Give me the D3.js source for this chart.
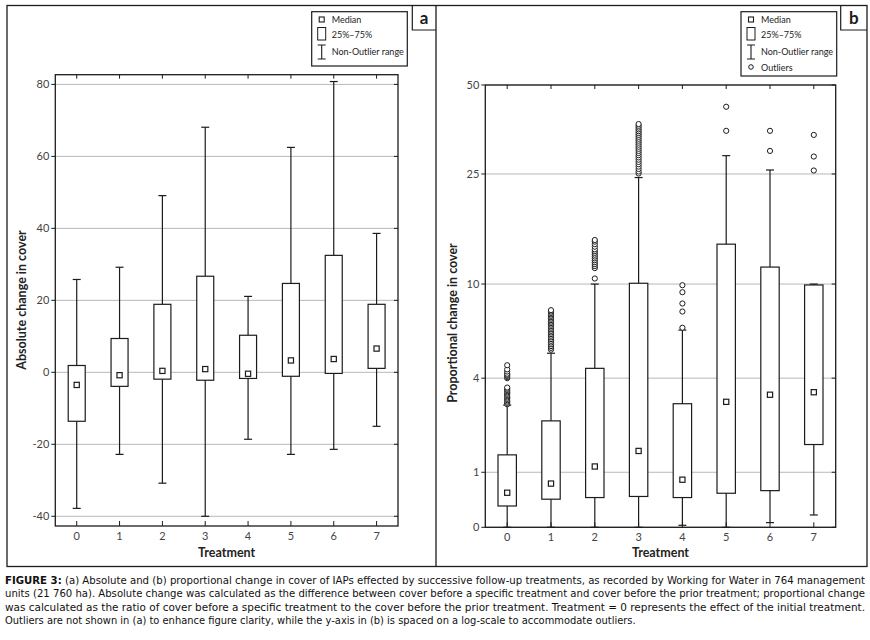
<!DOCTYPE html>
<html>
<head>
<meta charset="utf-8">
<script src="https://cdn.jsdelivr.net/npm/d3@7"></script>
<style>
  body { margin: 0; background: #fff; }
  svg { display: block; }
  .tick-label { font-family: Lato, "Open Sans", sans-serif; font-size: 11px; fill: #444; }
  .axis-title { font-family: Lato, "Open Sans", sans-serif; font-size: 12.5px; font-weight: bold; fill: #222; }
  .legend-text { font-family: Lato, "Open Sans", sans-serif; font-size: 9px; fill: #222; }
  .caption { font-family: "Liberation Sans Narrow", "DejaVu Sans Condensed", sans-serif; font-size: 11px; fill: #111; }
</style>
</head>
<body>
<div class="canvas"></div>
<script>
const treatments = ["0", "1", "2", "3", "4", "5", "6", "7"];

// (a) absolute change
const absLow  = [-37.8, -22.8, -30.8, -40.0, -18.6, -22.8, -21.4, -15.0];
const absQ1   = [-13.6, -3.9, -1.9, -2.2, -1.7, -1.1, -0.3, 1.1];
const absMed  = [-3.5, -0.8, 0.4, 0.9, -0.4, 3.3, 3.7, 6.6];
const absQ3   = [1.9, 9.4, 18.9, 26.7, 10.3, 24.7, 32.5, 18.9];
const absHigh = [25.8, 29.2, 49.1, 68.1, 21.1, 62.5, 80.8, 38.6];
const absTicks = [-40, -20, 0, 20, 40, 60, 80];

// (b) proportional change
const propLow  = [0, 0, 0, 0, 0.03, 0, 0.07, 0.19];
const propQ1   = [0.34, 0.46, 0.49, 0.51, 0.49, 0.57, 0.62, 1.68];
const propMed  = [0.58, 0.76, 1.13, 1.51, 0.84, 3.04, 3.31, 3.41];
const propQ3   = [1.41, 2.38, 4.45, 10.07, 2.97, 14.1, 11.6, 9.92];
const propHigh = [2.92, 5.21, 10.0, 24.3, 6.55, 28.9, 25.8, 10.0];
const propTicks = [0, 1, 4, 10, 25, 50];

const out0 = [2.95, 3.0, 3.05, 3.1, 3.15, 3.2, 3.25, 3.3, 3.35, 3.4, 3.45, 3.5, 3.55, 3.6, 4.0, 4.05, 4.1, 4.15, 4.2, 4.3, 4.4, 4.6];
const out1 = [5.4, 5.5, 5.6, 5.7, 5.8, 5.9, 6.0, 6.1, 6.2, 6.3, 6.4, 6.5, 6.6, 6.7, 6.8, 6.9, 7.0, 7.1, 7.2, 7.3, 7.4, 7.5, 7.6, 7.7, 7.8, 7.9];
const out2 = [10.5, 11.5, 11.7, 11.9, 12.1, 12.3, 12.5, 12.7, 12.9, 13.1, 13.3, 13.5, 13.8, 14.1, 14.4, 14.6];
const out3 = [25.1, 25.5, 26, 26.5, 27, 27.5, 28, 28.5, 29, 29.5, 30, 30.5, 31, 31.5, 32, 32.5, 33, 33.5, 34, 34.5, 35, 35.5, 36, 36.5, 37];
const out4 = [6.7, 7.8, 8.4, 9.3, 9.9];
const out5 = [35.1, 42.3];
const out6 = [30.0, 35.1];
const out7 = [25.7, 28.7, 34.0];
const outliers = [out0, out1, out2, out3, out4, out5, out6, out7];

const captionLines = [
  ["FIGURE 3:", " (a) Absolute and (b) proportional change in cover of IAPs effected by successive follow-up treatments, as recorded by Working for Water in 764 management"],
  ["", "units (21 760 ha). Absolute change was calculated as the difference between cover before a specific treatment and cover before the prior treatment; proportional change"],
  ["", "was calculated as the ratio of cover before a specific treatment to the cover before the prior treatment. Treatment = 0 represents the effect of the initial treatment."],
  ["", "Outliers are not shown in (a) to enhance figure clarity, while the y-axis in (b) is spaced on a log-scale to accommodate outliers."]
];

const W = 870, H = 640;
const ink = '#1c1c1c';

const svg = d3.select('.canvas').append('svg')
    .attr('width', W).attr('height', H);

// outer frame + divider
svg.append('rect').attr('x', 7).attr('y', 5.5).attr('width', 860).attr('height', 561)
    .attr('fill', 'none').attr('stroke', ink).attr('stroke-width', 1.3);
svg.append('line').attr('x1', 436).attr('x2', 436).attr('y1', 5.5).attr('y2', 566.5)
    .attr('stroke', ink).attr('stroke-width', 1.3);

// panel letter boxes
const letterBox = (x0, x1, txt) => {
    svg.append('path').attr('d', `M${x0},5.5 V30 H${x1}`)
        .attr('fill', 'none').attr('stroke', ink).attr('stroke-width', 1.2);
    svg.append('text').attr('x', (x0 + x1) / 2).attr('y', 24)
        .attr('text-anchor', 'middle')
        .style('font-family', 'Lato, sans-serif').style('font-weight', 'bold').style('font-size', '17px')
        .attr('fill', ink).text(txt);
};
letterBox(412.3, 436, 'a');
letterBox(840.7, 867, 'b');

// a box plot panel
const drawPanel = (cfg) => {
    const {left, right, top, bottom, y, ticks, low, q1, med, q3, high, outs, boxW} = cfg;
    const x = d3.scalePoint().domain(treatments).range([left, right]).padding(0.5);
    const g = svg.append('g');

    // grid
    g.selectAll('.grid').data(ticks).enter().append('line')
        .attr('x1', left).attr('x2', right)
        .attr('y1', d => y(d)).attr('y2', d => y(d))
        .attr('stroke', '#b8b8b8').attr('stroke-width', 1);

    // frame
    g.append('rect').attr('x', left).attr('y', top)
        .attr('width', right - left).attr('height', bottom - top)
        .attr('fill', 'none').attr('stroke', ink).attr('stroke-width', 1.3);

    // y ticks (left outward, right inward)
    g.selectAll('.ytl').data(ticks).enter().append('line')
        .attr('x1', left - 4).attr('x2', left)
        .attr('y1', d => y(d)).attr('y2', d => y(d)).attr('stroke', ink);
    g.selectAll('.ytr').data(ticks).enter().append('line')
        .attr('x1', right - 4).attr('x2', right)
        .attr('y1', d => y(d)).attr('y2', d => y(d)).attr('stroke', ink);
    g.selectAll('.ylab').data(ticks).enter().append('text')
        .attr('class', 'tick-label')
        .attr('x', left - 6).attr('y', d => y(d) + 4)
        .attr('text-anchor', 'end').text(d => d);

    // x ticks (top and bottom inward)
    g.selectAll('.xtt').data(treatments).enter().append('line')
        .attr('x1', d => x(d)).attr('x2', d => x(d))
        .attr('y1', top).attr('y2', top + 4).attr('stroke', ink);
    g.selectAll('.xtb').data(treatments).enter().append('line')
        .attr('x1', d => x(d)).attr('x2', d => x(d))
        .attr('y1', bottom - 5).attr('y2', bottom).attr('stroke', ink);
    g.selectAll('.xlab').data(treatments).enter().append('text')
        .attr('class', 'tick-label')
        .attr('x', d => x(d)).attr('y', bottom + 14)
        .attr('text-anchor', 'middle').text(d => d);

    const rows = treatments.map((t, i) => ({t, lo: low[i], q1: q1[i], md: med[i], q3: q3[i], hi: high[i]}));
    const boxes = g.selectAll('.box').data(rows).enter().append('g')
        .attr('stroke', ink).attr('stroke-width', 1.2);
    boxes.append('line')
        .attr('x1', d => x(d.t)).attr('x2', d => x(d.t))
        .attr('y1', d => y(d.hi)).attr('y2', d => y(d.lo));
    boxes.append('line')
        .attr('x1', d => x(d.t) - 4).attr('x2', d => x(d.t) + 4)
        .attr('y1', d => y(d.hi)).attr('y2', d => y(d.hi));
    boxes.append('line')
        .attr('x1', d => x(d.t) - 4).attr('x2', d => x(d.t) + 4)
        .attr('y1', d => y(d.lo)).attr('y2', d => y(d.lo));
    boxes.append('rect')
        .attr('x', d => x(d.t) - boxW / 2).attr('width', boxW)
        .attr('y', d => y(d.q3)).attr('height', d => y(d.q1) - y(d.q3))
        .attr('fill', '#fff');
    boxes.append('rect')
        .attr('x', d => x(d.t) - 2.6).attr('y', d => y(d.md) - 2.6)
        .attr('width', 5.2).attr('height', 5.2).attr('fill', '#fff');

    if (outs) {
        const pts = [];
        outs.forEach((arr, i) => arr.forEach(v => pts.push({t: treatments[i], v})));
        g.selectAll('.out').data(pts).enter().append('circle')
            .attr('cx', d => x(d.t)).attr('cy', d => y(d.v)).attr('r', 2.6)
            .attr('fill', '#fff').attr('stroke', ink).attr('stroke-width', 1);
    }

    g.append('text').attr('class', 'axis-title')
        .attr('x', (left + right) / 2).attr('y', 557)
        .attr('text-anchor', 'middle').text('Treatment');
    return g;
};

const yA = d3.scaleLinear().domain([-42.7, 82.7]).range([526, 74.7]);
drawPanel({left: 55.3, right: 398, top: 74.7, bottom: 526, y: yA, ticks: absTicks,
    low: absLow, q1: absQ1, med: absMed, q3: absQ3, high: absHigh, outs: null, boxW: 17});

const yB = d3.scaleSymlog().constant(2).domain([0, 50]).range([527.3, 85]);
drawPanel({left: 485.3, right: 835.7, top: 85, bottom: 527.3, y: yB, ticks: propTicks,
    low: propLow, q1: propQ1, med: propMed, q3: propQ3, high: propHigh, outs: outliers, boxW: 18.4});

svg.append('text').attr('class', 'axis-title')
    .attr('transform', 'translate(26,300) rotate(-90)')
    .attr('text-anchor', 'middle').text('Absolute change in cover');
svg.append('text').attr('class', 'axis-title')
    .attr('transform', 'translate(457,323) rotate(-90)')
    .attr('text-anchor', 'middle').text('Proportional change in cover');

// legends
const legend = (x0, x1, y1, withOut) => {
    const lg = svg.append('g');
    lg.append('rect').attr('x', x0).attr('y', 11.7).attr('width', x1 - x0).attr('height', y1 - 11.7)
        .attr('fill', '#fff').attr('stroke', ink).attr('stroke-width', 1.2);
    const cx = x0 + 10, tx = x0 + 20;
    lg.append('rect').attr('x', cx - 2.5).attr('y', 17).attr('width', 5).attr('height', 5)
        .attr('fill', 'none').attr('stroke', ink).attr('stroke-width', 1.1);
    lg.append('text').attr('class', 'legend-text').attr('x', tx).attr('y', 22.5).text('Median');
    lg.append('rect').attr('x', cx - 4).attr('y', 27.5).attr('width', 8).attr('height', 12.5)
        .attr('fill', 'none').attr('stroke', ink).attr('stroke-width', 1);
    lg.append('text').attr('class', 'legend-text').attr('x', tx).attr('y', 37.5).text('25%–75%');
    lg.append('path').attr('d', `M${cx - 4},45 H${cx + 4} M${cx},45 V59 M${cx - 4},59 H${cx + 4}`)
        .attr('fill', 'none').attr('stroke', ink).attr('stroke-width', 1.1);
    lg.append('text').attr('class', 'legend-text').attr('x', tx).attr('y', 54.5).text('Non-Outlier range');
    if (withOut) {
        lg.append('circle').attr('cx', cx).attr('cy', 67).attr('r', 2.3)
            .attr('fill', 'none').attr('stroke', ink).attr('stroke-width', 1);
        lg.append('text').attr('class', 'legend-text').attr('x', tx).attr('y', 70.5).text('Outliers');
    }
};
legend(311.7, 407.3, 66, false);
legend(741, 836.7, 76, true);

// caption
const cap = svg.append('g');
captionLines.forEach((ln, i) => {
    const t = cap.append('text').attr('class', 'caption')
        .attr('x', 5).attr('y', 584 + i * 13.3);
    if (i < 3) t.attr('textLength', 860).attr('lengthAdjust', 'spacingAndGlyphs');
    if (ln[0]) t.append('tspan').style('font-weight', 'bold').text(ln[0]);
    t.append('tspan').text(ln[1]);
});
</script>
</body>
</html>
